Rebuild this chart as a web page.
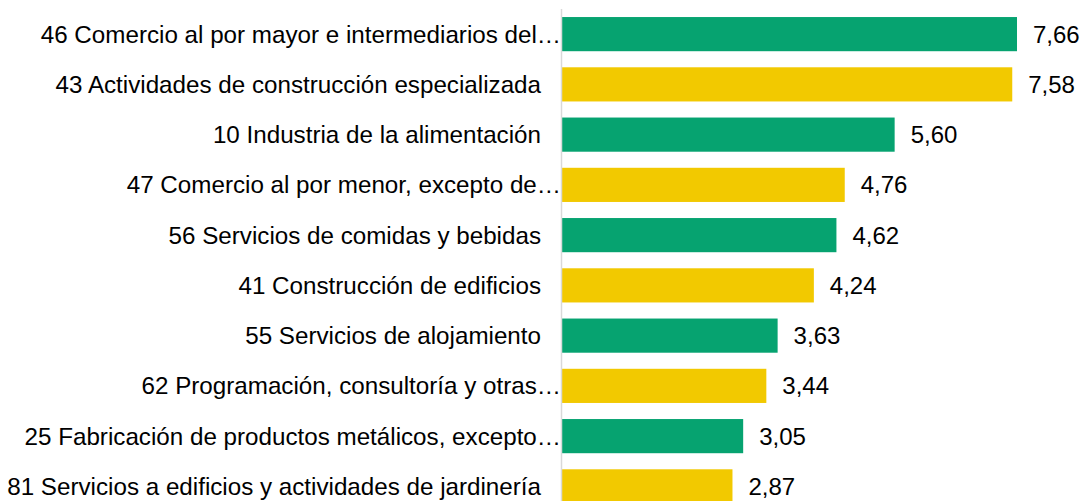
<!DOCTYPE html>
<html>
<head>
<meta charset="utf-8">
<script src="https://cdn.jsdelivr.net/npm/d3@7"></script>
<style>
  body { margin: 0; background: #fff; }
  text { font-family: "Liberation Sans", Arial, sans-serif; fill: #000; }
</style>
</head>
<body>
<div id="chart"></div>
<script>
const categories = [
  '46 Comercio al por mayor e intermediarios del…',
  '43 Actividades de construcción especializada',
  '10 Industria de la alimentación',
  '47 Comercio al por menor, excepto de…',
  '56 Servicios de comidas y bebidas',
  '41 Construcción de edificios',
  '55 Servicios de alojamiento',
  '62 Programación, consultoría y otras…',
  '25 Fabricación de productos metálicos, excepto…',
  '81 Servicios a edificios y actividades de jardinería'
]
const values = [7.66, 7.58, 5.6, 4.76, 4.62, 4.24, 3.63, 3.44, 3.05, 2.87]
const palette = ['#06a370', '#f2c900']

const width = 1082
const height = 501
const axisX = 561

const data = categories.map((c, i) => ({ cat: c, value: values[i] }))

const svg = d3
  .select('#chart')
  .append('svg')
  .attr('width', width)
  .attr('height', height)

const x = d3
  .scaleLinear()
  .domain([0, 8])
  .range([axisX + 1, axisX + 1 + 8 * 59.4])

const y = d3
  .scaleBand()
  .domain(categories)
  .range([9, 9 + categories.length * 50.25])
  .paddingInner(0.32)
  .paddingOuter(0.16)

const fmt = d => d3.format('.2f')(d).replace('.', ',')

// bars
svg
  .selectAll('rect.bar')
  .data(data)
  .enter()
  .append('rect')
  .attr('class', 'bar')
  .attr('x', x(0))
  .attr('y', d => y(d.cat))
  .attr('width', d => x(d.value) - x(0))
  .attr('height', y.bandwidth())
  .attr('fill', (d, i) => palette[i % 2])

// vertical axis line
svg
  .append('line')
  .attr('x1', axisX + 0.5)
  .attr('x2', axisX + 0.5)
  .attr('y1', 9)
  .attr('y2', height)
  .attr('stroke', '#d9d9d9')
  .attr('stroke-width', 1.5)

// category labels
svg
  .selectAll('text.cat')
  .data(data)
  .enter()
  .append('text')
  .attr('class', 'cat')
  .attr('x', d => (d.cat.endsWith('…') ? axisX : axisX - 20))
  .attr('y', d => y(d.cat) + y.bandwidth() / 2 + 8.5)
  .attr('text-anchor', 'end')
  .style('font-size', '24.2px')
  .text(d => d.cat)

// value labels
svg
  .selectAll('text.val')
  .data(data)
  .enter()
  .append('text')
  .attr('class', 'val')
  .attr('x', d => x(d.value) + 16)
  .attr('y', d => y(d.cat) + y.bandwidth() / 2 + 8.5)
  .style('font-size', '24px')
  .text(d => fmt(d.value))
</script>
</body>
</html>
